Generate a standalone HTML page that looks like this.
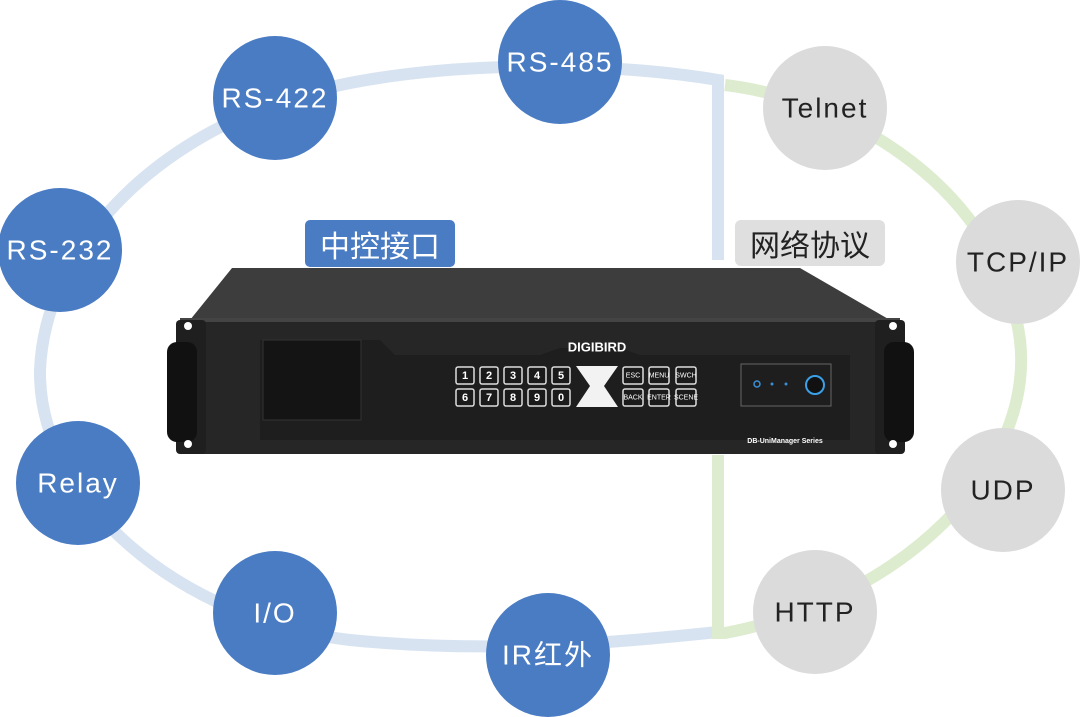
<!DOCTYPE html>
<html><head><meta charset="utf-8"><style>
body{margin:0;background:#fff;}
svg{display:block}
.b{fill:#4a7cc4}
.g{fill:#dcdbdc}
.tw{font-family:"Liberation Sans","DejaVu Sans",sans-serif;font-size:28px;letter-spacing:2px;fill:#fff;text-anchor:middle;dominant-baseline:central}
.tk{font-family:"Liberation Sans","DejaVu Sans",sans-serif;font-size:28px;letter-spacing:2px;fill:#222;text-anchor:middle;dominant-baseline:central}
.k{fill:#1b1b1b;stroke:#ddd;stroke-width:1.5}
.kt{font-family:"Liberation Sans",sans-serif;font-size:11px;font-weight:bold;fill:#fff;text-anchor:middle;dominant-baseline:central}
.ks{font-family:"Liberation Sans",sans-serif;font-size:7px;fill:#fff;text-anchor:middle;dominant-baseline:central}
</style></head><body>
<svg width="1080" height="717" viewBox="0 0 1080 717">
<path d="M718 260 L718 80 C600 60 420 60 300 95 C150 140 45 250 40 370 C38 500 180 620 350 640 C500 655 640 640 718 632" fill="none" stroke="#d8e3f1" stroke-width="12"/>
<path d="M725 85 C850 100 1000 190 1020 340 C1035 470 900 600 725 633 L718 633 L718 455" fill="none" stroke="#ddeccf" stroke-width="12"/>
<circle class="b" cx="560" cy="62" r="62"/><text class="tw" x="560" y="62">RS-485</text>
<circle class="b" cx="275" cy="98" r="62"/><text class="tw" x="275" y="98">RS-422</text>
<circle class="b" cx="60" cy="250" r="62"/><text class="tw" x="60" y="250">RS-232</text>
<circle class="b" cx="78" cy="483" r="62"/><text class="tw" x="78" y="483">Relay</text>
<circle class="b" cx="275" cy="613" r="62"/><text class="tw" x="275" y="613">I/O</text>
<circle class="b" cx="548" cy="655" r="62"/><text class="tw" x="548" y="655" style="font-family:'Liberation Sans','Noto Sans CJK SC',sans-serif">IR红外</text>
<circle class="g" cx="825" cy="108" r="62"/><text class="tk" x="825" y="108">Telnet</text>
<circle class="g" cx="1018" cy="262" r="62"/><text class="tk" x="1018" y="262">TCP/IP</text>
<circle class="g" cx="1003" cy="490" r="62"/><text class="tk" x="1003" y="490">UDP</text>
<circle class="g" cx="815" cy="612" r="62"/><text class="tk" x="815" y="612">HTTP</text>
<rect x="305" y="220" width="150" height="47" rx="5" fill="#4a7cc4"/>
<text x="380" y="244" style="font-family:'Noto Sans CJK SC',sans-serif;font-size:30px;fill:#fff;text-anchor:middle;dominant-baseline:central">中控接口</text>
<rect x="735" y="220" width="150" height="46" rx="6" fill="#e0dfdf"/>
<text x="810" y="243" style="font-family:'Noto Sans CJK SC',sans-serif;font-size:30px;fill:#222;text-anchor:middle;dominant-baseline:central">网络协议</text>
<polygon points="190,320 232,268 800,268 890,320" fill="#3d3d3d"/>
<rect x="180" y="318" width="720" height="136" fill="#262626"/>
<rect x="180" y="318" width="720" height="4" fill="#444"/>
<polygon points="260,340 380,340 395,355 540,355 560,348 620,348 640,355 850,355 850,440 260,440" fill="#1e1e1e"/>
<rect x="263" y="340" width="98" height="80" fill="#141414" stroke="#333"/>
<rect x="176" y="320" width="30" height="134" rx="4" fill="#1f1f1f"/>
<rect x="167" y="342" width="30" height="100" rx="10" fill="#111"/>
<circle cx="188" cy="326" r="4" fill="#fff"/>
<circle cx="188" cy="444" r="4" fill="#fff"/>
<rect x="875" y="320" width="30" height="134" rx="4" fill="#1f1f1f"/>
<rect x="884" y="342" width="30" height="100" rx="10" fill="#111"/>
<circle cx="893" cy="326" r="4" fill="#fff"/>
<circle cx="893" cy="444" r="4" fill="#fff"/>
<text x="597" y="347" style="font-family:'Liberation Sans',sans-serif;font-size:13px;font-weight:bold;fill:#fff;text-anchor:middle;dominant-baseline:central">DIGIBIRD</text>
<g>
<rect class="k" x="456" y="367" width="18" height="17" rx="2"/><text class="kt" x="465" y="376">1</text>
<rect class="k" x="480" y="367" width="18" height="17" rx="2"/><text class="kt" x="489" y="376">2</text>
<rect class="k" x="504" y="367" width="18" height="17" rx="2"/><text class="kt" x="513" y="376">3</text>
<rect class="k" x="528" y="367" width="18" height="17" rx="2"/><text class="kt" x="537" y="376">4</text>
<rect class="k" x="552" y="367" width="18" height="17" rx="2"/><text class="kt" x="561" y="376">5</text>
<rect class="k" x="456" y="389" width="18" height="17" rx="2"/><text class="kt" x="465" y="398">6</text>
<rect class="k" x="480" y="389" width="18" height="17" rx="2"/><text class="kt" x="489" y="398">7</text>
<rect class="k" x="504" y="389" width="18" height="17" rx="2"/><text class="kt" x="513" y="398">8</text>
<rect class="k" x="528" y="389" width="18" height="17" rx="2"/><text class="kt" x="537" y="398">9</text>
<rect class="k" x="552" y="389" width="18" height="17" rx="2"/><text class="kt" x="561" y="398">0</text>
<polygon points="576,366 618,366 604,386 618,407 576,407 590,386" fill="#f2f2f2"/>
<rect class="k" x="623" y="367" width="20" height="17" rx="2"/><text class="ks" x="633" y="376">ESC</text>
<rect class="k" x="649" y="367" width="20" height="17" rx="2"/><text class="ks" x="659" y="376">MENU</text>
<rect class="k" x="676" y="367" width="20" height="17" rx="2"/><text class="ks" x="686" y="376">SWCH</text>
<rect class="k" x="623" y="389" width="20" height="17" rx="2"/><text class="ks" x="633" y="398">BACK</text>
<rect class="k" x="649" y="389" width="20" height="17" rx="2"/><text class="ks" x="659" y="398">ENTER</text>
<rect class="k" x="676" y="389" width="20" height="17" rx="2"/><text class="ks" x="686" y="398">SCENE</text>
</g>
<rect x="741" y="364" width="90" height="42" fill="none" stroke="#666"/>
<circle cx="757" cy="384" r="3" fill="none" stroke="#3b8fd6" stroke-width="1.5"/>
<circle cx="772" cy="384" r="1.5" fill="#3b8fd6"/>
<circle cx="786" cy="384" r="1.5" fill="#3b8fd6"/>
<circle cx="815" cy="385" r="9" fill="#111" stroke="#3aa0e8" stroke-width="2"/>
<text x="785" y="443" style="font-family:'Liberation Sans',sans-serif;font-size:7px;font-weight:bold;fill:#fff;text-anchor:middle">DB-UniManager  Series</text>
</svg>
</body></html>
